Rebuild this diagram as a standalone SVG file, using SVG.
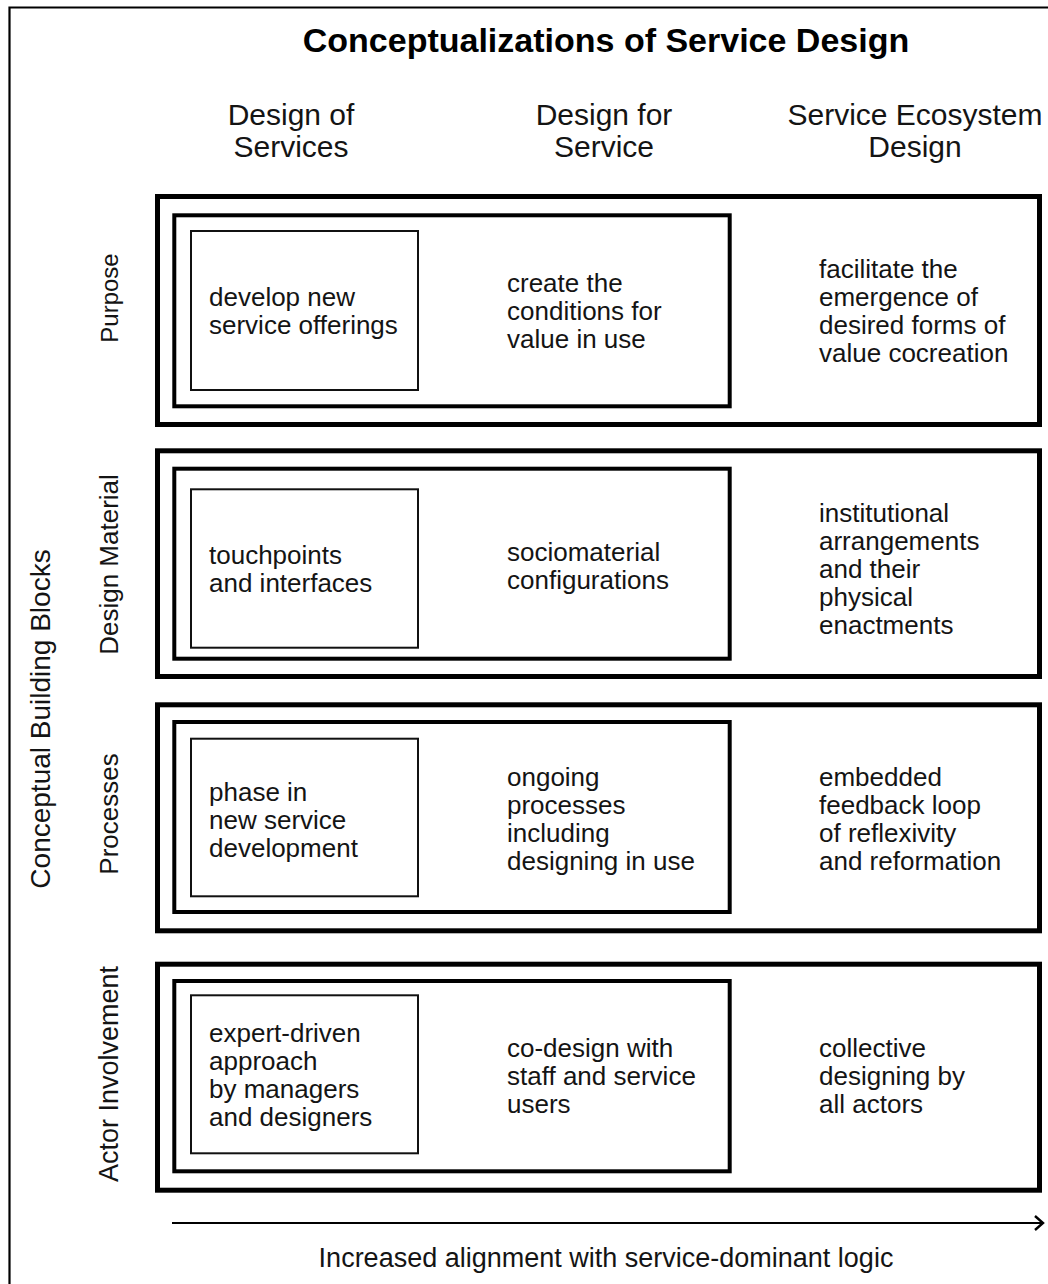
<svg xmlns="http://www.w3.org/2000/svg" width="1048" height="1284" viewBox="0 0 1048 1284">
  <style>
    .t{font-family:"Liberation Sans",Arial,sans-serif;font-size:26px;fill:#141414}
    .h{font-size:30px;text-anchor:middle}
    .title{font-weight:bold;font-size:34px;text-anchor:middle;fill:#000}
    .lab{text-anchor:middle;font-size:26px}
    .big{text-anchor:middle;font-size:28px}
    .outer{fill:none;stroke:#000;stroke-width:5}
    .mid{fill:none;stroke:#000;stroke-width:4}
    .inner{fill:none;stroke:#111;stroke-width:2}
    .axis{stroke:#000;stroke-width:2;fill:none}
  </style>
  <defs>
    <marker id="chev" markerWidth="12" markerHeight="18" refX="10" refY="9" orient="auto" markerUnits="userSpaceOnUse">
      <path d="M2,2 L10,9 L2,16" fill="none" stroke="#000" stroke-width="2.4"/>
    </marker>
  </defs>
  <rect width="1048" height="1284" fill="#fff"/>
  <path d="M9.5,1284 V7.5 H1048" fill="none" stroke="#000" stroke-width="2.2"/>

  <g id="title">
    <text class="t title" x="606" y="52">Conceptualizations of Service Design</text>
  </g>

  <g id="col-headers">
    <text class="t h" x="291" y="125">Design of</text>
    <text class="t h" x="291" y="157">Services</text>
    <text class="t h" x="604" y="125">Design for</text>
    <text class="t h" x="604" y="157">Service</text>
    <text class="t h" x="915" y="125">Service Ecosystem</text>
    <text class="t h" x="915" y="157">Design</text>
  </g>

  <g id="axis-label">
    <text class="t big" transform="translate(50,719) rotate(-90)">Conceptual Building Blocks</text>
  </g>

  <g id="row-purpose">
    <rect class="outer" x="157.5" y="196.5" width="882" height="228"/>
    <rect class="mid" x="174.3" y="215.3" width="555.4" height="191"/>
    <rect class="inner" x="191" y="231" width="227" height="159"/>
    <text class="t lab" transform="translate(118,298) rotate(-90)" style="font-size:24px">Purpose</text>
    <text class="t" x="209" y="306">develop new</text>
    <text class="t" x="209" y="334">service offerings</text>
    <text class="t" x="507" y="292">create the</text>
    <text class="t" x="507" y="320">conditions for</text>
    <text class="t" x="507" y="348">value in use</text>
    <text class="t" x="819" y="278">facilitate the</text>
    <text class="t" x="819" y="306">emergence of</text>
    <text class="t" x="819" y="334">desired forms of</text>
    <text class="t" x="819" y="362">value cocreation</text>
  </g>

  <g id="row-design-material">
    <rect class="outer" x="157.5" y="450.8" width="882" height="225.7"/>
    <rect class="mid" x="174.3" y="468.7" width="555.4" height="190"/>
    <rect class="inner" x="191" y="489.3" width="227" height="158.4"/>
    <text class="t lab" transform="translate(118,564.5) rotate(-90)">Design Material</text>
    <text class="t" x="209" y="564">touchpoints</text>
    <text class="t" x="209" y="592">and interfaces</text>
    <text class="t" x="507" y="561">sociomaterial</text>
    <text class="t" x="507" y="589">configurations</text>
    <text class="t" x="819" y="522">institutional</text>
    <text class="t" x="819" y="550">arrangements</text>
    <text class="t" x="819" y="578">and their</text>
    <text class="t" x="819" y="606">physical</text>
    <text class="t" x="819" y="634">enactments</text>
  </g>

  <g id="row-processes">
    <rect class="outer" x="157.5" y="704.8" width="882" height="226"/>
    <rect class="mid" x="174.3" y="722" width="555.4" height="190"/>
    <rect class="inner" x="191" y="738.7" width="227" height="157.6"/>
    <text class="t lab" transform="translate(118,814) rotate(-90)">Processes</text>
    <text class="t" x="209" y="801">phase in</text>
    <text class="t" x="209" y="829">new service</text>
    <text class="t" x="209" y="857">development</text>
    <text class="t" x="507" y="786">ongoing</text>
    <text class="t" x="507" y="814">processes</text>
    <text class="t" x="507" y="842">including</text>
    <text class="t" x="507" y="870">designing in use</text>
    <text class="t" x="819" y="786">embedded</text>
    <text class="t" x="819" y="814">feedback loop</text>
    <text class="t" x="819" y="842">of reflexivity</text>
    <text class="t" x="819" y="870">and reformation</text>
  </g>

  <g id="row-actor-involvement">
    <rect class="outer" x="157.5" y="964.2" width="882" height="226"/>
    <rect class="mid" x="174.3" y="981" width="555.4" height="190.3"/>
    <rect class="inner" x="191" y="995.3" width="227" height="158"/>
    <text class="t lab" transform="translate(118,1074) rotate(-90)" style="font-size:27px">Actor Involvement</text>
    <text class="t" x="209" y="1042">expert-driven</text>
    <text class="t" x="209" y="1070">approach</text>
    <text class="t" x="209" y="1098">by managers</text>
    <text class="t" x="209" y="1126">and designers</text>
    <text class="t" x="507" y="1057">co-design with</text>
    <text class="t" x="507" y="1085">staff and service</text>
    <text class="t" x="507" y="1113">users</text>
    <text class="t" x="819" y="1057">collective</text>
    <text class="t" x="819" y="1085">designing by</text>
    <text class="t" x="819" y="1113">all actors</text>
  </g>

  <g id="connectors">
    <line class="axis" x1="172" y1="1223" x2="1043" y2="1223" marker-end="url(#chev)"/>
  </g>

  <g id="axis-caption">
    <text class="t" x="606" y="1267" text-anchor="middle" style="font-size:27px">Increased alignment with service-dominant logic</text>
  </g>
</svg>
